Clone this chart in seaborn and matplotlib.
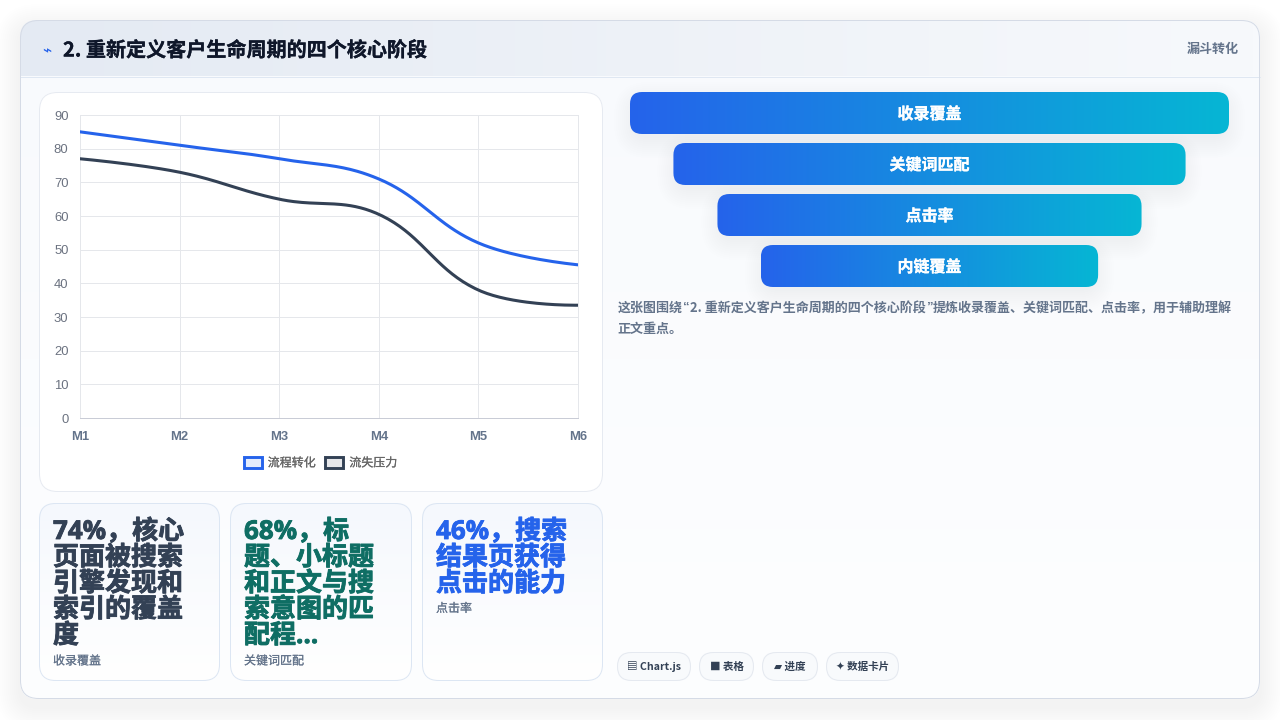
import numpy as np
import pandas as pd
import matplotlib
matplotlib.use("Agg")
import matplotlib.pyplot as plt
import matplotlib.patheffects as pe
from matplotlib.colors import LinearSegmentedColormap
from matplotlib.patches import FancyBboxPatch, Patch
import seaborn as sns

# ---- content ----
months = ["M1", "M2", "M3", "M4", "M5", "M6"]
flow_conversion = [85, 81, 77, 71, 52, 45.5]
churn_pressure = [77, 73, 65, 60.5, 38, 33.5]
series_names = ["流程转化", "流失压力"]
y_ticks = [0, 10, 20, 30, 40, 50, 60, 70, 80, 90]

title = "2. 重新定义客户生命周期的四个核心阶段"
tag = "漏斗转化"
funnel_labels = ["收录覆盖", "关键词匹配", "点击率", "内链覆盖"]
funnel_shares = [100, 85.5, 70.8, 56.3]
note_first = ["这张图围绕", "“", "2. 重新定义客户生命周期的四个核心阶段", "”",
              "提炼收录覆盖、关键词匹配、点击率，用于辅助理解"]
note_second = "正文重点。"
card_a = ["74%，核心", "页面被搜索", "引擎发现和", "索引的覆盖", "度"]
card_b = ["68%，标", "题、小标题", "和正文与搜", "索意图的匹", "配程..."]
card_c = ["46%，搜索", "结果页获得", "点击的能力"]
card_labels = ["收录覆盖", "关键词匹配", "点击率"]
chips = ["▤ Chart.js", "■ 表格", "▰ 进度", "✦ 数据卡片"]

BLUE = "#2563eb"
SLATE = "#334155"
TEAL = "#0f6e64"
GREY = "#64748b"
HAIR = 0.72  # one pixel at 100 dpi

sns.set_theme(style="white")
CJK = ["Noto Sans CJK SC", "DejaVu Sans"]
LATIN_FIRST = ["Open Sans", "Noto Sans CJK SC"]
plt.rcParams["font.family"] = CJK

fig = plt.figure(figsize=(12.8, 7.2), dpi=100, facecolor="white")

# Page layer in pixel units
bg = fig.add_axes([0, 0, 1, 1], zorder=0)
bg.set_xlim(0, 1280)
bg.set_ylim(720, 0)
bg.axis("off")


def rounded(x0, y0, x1, y1, r, **kw):
    patch = FancyBboxPatch((x0 + r, y0 + r), x1 - x0 - 2 * r, y1 - y0 - 2 * r,
                           boxstyle=f"round,pad={r},rounding_size={r}",
                           mutation_aspect=1, **kw)
    bg.add_patch(patch)
    return patch


def outline(x0, y0, x1, y1, r, color, zorder):
    """One-pixel border sitting on pixel centres so it stays crisp."""
    return rounded(x0 + 0.5, y0 + 0.5, x1 - 0.5, y1 - 0.5, r, facecolor="none",
                   edgecolor=color, linewidth=HAIR, zorder=zorder)


def gradient(clip, x0, y0, x1, y1, colors, vertical=False, zorder=2):
    cmap = LinearSegmentedColormap.from_list("fill", colors)
    ramp = np.linspace(0, 1, 256)
    ramp = ramp[:, None] if vertical else ramp[None, :]
    im = bg.imshow(ramp, cmap=cmap, extent=(x0, x1, y1, y0), aspect="auto",
                   interpolation="bilinear", zorder=zorder)
    im.set_clip_path(clip)
    return im


def shadow(x0, y0, x1, y1, r, spread, dy, alpha, zorder):
    for k in range(spread, 0, -2):
        rounded(x0 - k, y0 - k + dy, x1 + k, y1 + k + dy, r + k,
                facecolor="#0f172a", edgecolor="none", alpha=alpha, zorder=zorder)


def heavy_text(x, y, s, color, size, family=CJK, stroke=0.0, **kw):
    t = bg.text(x, y, s, color=color, fontsize=size, family=family,
                fontweight="bold", va="center", zorder=9, **kw)
    if stroke:
        t.set_path_effects([pe.withStroke(linewidth=stroke, foreground=color)])
    return t


# Outer panel and header band
shadow(20, 20, 1260, 699, 18, 24, 8, 0.0035, 1)
panel = rounded(20, 20, 1260, 699, 18, facecolor="#fbfcfe", edgecolor="none", zorder=2)
gradient(panel, 20, 20, 1260, 699, ["#f8fafd", "#fdfeff"], vertical=True, zorder=2.1)
gradient(panel, 20, 20, 1260, 76, ["#e4eaf3", "#f7f9fc"], zorder=2.2)
bg.plot([20, 1260], [76.5, 76.5], color="#dfe7f2", lw=HAIR, zorder=2.3)
outline(20, 20, 1260, 699, 18, "#d5dbe6", 2.4)

heavy_text(42, 51, "⌁", BLUE, 11, family=["DejaVu Sans"])
heavy_text(63, 50, title, "#0f172a", 14.45, stroke=0.2)
heavy_text(1239, 48.5, tag, GREY, 9.4, ha="right")

# Chart card
rounded(39, 92, 603, 492, 18, facecolor="white", edgecolor="none", zorder=3)
outline(39, 92, 603, 492, 18, "#e6eaf1", 3.05)

# Funnel bars, each centred on the same axis
FUNNEL_FULL = 599
FUNNEL_CENTRE = 929.5
for i, (label, share) in enumerate(zip(funnel_labels, funnel_shares)):
    half = FUNNEL_FULL * share / 100 / 2
    top = 92 + i * 51
    x0, x1 = FUNNEL_CENTRE - half, FUNNEL_CENTRE + half
    for k in range(22, 0, -2):
        rounded(x0 - k + 6, top - k + 12, x1 + k - 6, top + 42 + k + 2, 12 + k,
                facecolor="#0f172a", edgecolor="none", alpha=0.004, zorder=3)
    box = rounded(x0, top, x1, top + 42, 12, facecolor="none", edgecolor="none", zorder=4)
    gradient(box, x0, top, x1, top + 42, [BLUE, "#06b6d4"], zorder=4)
    heavy_text(FUNNEL_CENTRE, top + 22, label, "white", 11.52, ha="center", stroke=0.2)

# Explanatory note: the first line is laid out piece by piece so the quotes stay narrow
renderer = fig.canvas.get_renderer()
cursor = 618.0
for piece in note_first:
    quote = piece in ("“", "”")
    t = heavy_text(cursor, 308, piece, GREY, 9.36,
                   family=["Liberation Sans"] if quote else CJK)
    cursor += t.get_window_extent(renderer).width + (0.5 if quote else 0)
heavy_text(617.5, 329, note_second, GREY, 9.36)

# Metric cards
for (x0, x1), lines, colour, label in zip(
        [(39, 220), (230, 412), (422, 603)], [card_a, card_b, card_c],
        [SLATE, TEAL, BLUE], card_labels):
    box = rounded(x0, 503, x1, 681, 16, facecolor="white", edgecolor="none", zorder=3)
    gradient(box, x0, 503, x1, 681, ["#f5f8fd", "#ffffff"], vertical=True, zorder=3.1)
    outline(x0, 503, x1, 681, 16, "#dce6f3", 3.2)
    for n, line in enumerate(lines):
        heavy_text(x0 + 14, 531.5 + 26 * n, line, colour, 18.72,
                   family=LATIN_FIRST, stroke=0.6)
    label_y = 661 if len(lines) == 5 else 608.5
    t = bg.text(x0 + 14, label_y, label, color=GREY, fontsize=8.64, va="center", zorder=9)
    t.set_path_effects([pe.withStroke(linewidth=0.12, foreground=GREY)])

# Technology chips
for (x0, x1), chip in zip([(617, 691), (699, 754), (762, 818), (826, 899)], chips):
    rounded(x0, 652, x1, 681, 14.5, facecolor="#f8fafc", edgecolor="none", zorder=3)
    outline(x0, 652, x1, 681, 14, "#e5e9f0", 3.1)
    heavy_text((x0 + x1) / 2, 667, chip, SLATE, 7.6, ha="center")

bg.set_xlim(0, 1280)
bg.set_ylim(720, 0)

# ---- line chart ----
ax = fig.add_axes([80 / 1280, 1 - 418 / 720, 498 / 1280, 303 / 720], zorder=1)
ax.patch.set_alpha(0)


def smooth(values, tension=0.4, samples=40):
    """Cubic bezier through the values, with control points set by neighbour distance."""
    sx, sy = 498 / 5, 303 / 90
    pts = np.column_stack([np.arange(len(values)) * sx, np.array(values) * sy])
    before, after = pts.copy(), pts.copy()
    for i in range(1, len(pts) - 1):
        d01 = np.hypot(*(pts[i] - pts[i - 1]))
        d12 = np.hypot(*(pts[i + 1] - pts[i]))
        span = pts[i + 1] - pts[i - 1]
        before[i] = pts[i] - tension * d01 / (d01 + d12) * span
        after[i] = pts[i] + tension * d12 / (d01 + d12) * span
    out = []
    t = np.linspace(0, 1, samples)[:, None]
    for i in range(len(pts) - 1):
        out.append((1 - t) ** 3 * pts[i] + 3 * (1 - t) ** 2 * t * after[i]
                   + 3 * (1 - t) * t ** 2 * before[i + 1] + t ** 3 * pts[i + 1])
    out = np.vstack(out)
    return out[:, 0] / sx, out[:, 1] / sy


frames = []
for name, values in zip(series_names, (flow_conversion, churn_pressure)):
    px, py = smooth(values)
    frames.append(pd.DataFrame({"position": px, "value": py, "series": name}))
curves = pd.concat(frames, ignore_index=True)

sns.lineplot(data=curves, x="position", y="value", hue="series", sort=False, estimator=None,
             palette={series_names[0]: BLUE, series_names[1]: SLATE},
             linewidth=2.2, legend=False, ax=ax, zorder=3)

ax.set_xlim(0, len(months) - 1)
ax.set_ylim(0, 90)
ax.set_xlabel("")
ax.set_ylabel("")
ax.set_xticks(range(len(months)), months, family="Liberation Sans", fontweight="bold",
              fontsize=9.36, color=GREY)
ax.set_yticks(y_ticks, [str(v) for v in y_ticks], family="Liberation Sans",
              fontsize=9.36, color="#6b7280")
ax.grid(True, color="#e5e7eb", linewidth=HAIR)
ax.set_axisbelow(True)
ax.tick_params(axis="both", length=5.8, width=HAIR, color="#e5e7eb", pad=2.5)
ax.tick_params(axis="x", pad=3.5)
for side in ("top", "right", "left"):
    ax.spines[side].set_color("#e5e7eb")
    ax.spines[side].set_linewidth(HAIR)
ax.spines["bottom"].set_color("#c9ccd6")
ax.spines["bottom"].set_linewidth(HAIR)

handles = [Patch(facecolor=BLUE + "1f", edgecolor=BLUE, linewidth=2.1, label=series_names[0]),
           Patch(facecolor=SLATE + "1f", edgecolor=SLATE, linewidth=2.1, label=series_names[1])]
legend = ax.legend(handles=handles, loc="center", bbox_to_anchor=(320.5, 463),
                   bbox_transform=bg.transData, ncols=2, frameon=False, fontsize=8.64,
                   handlelength=1.5, handleheight=1.0, handletextpad=0.5,
                   columnspacing=0.8, borderpad=0, borderaxespad=0)
for text in legend.get_texts():
    text.set_color("#666666")
    text.set_path_effects([pe.withStroke(linewidth=0.15, foreground="#666666")])

fig.savefig("out.png", dpi=100, facecolor="white")
